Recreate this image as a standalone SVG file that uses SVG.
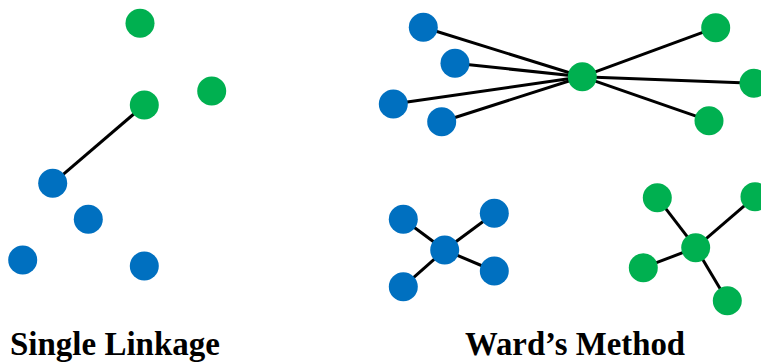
<svg xmlns="http://www.w3.org/2000/svg" width="761" height="362" viewBox="0 0 761 362">
<style>
.b{fill:#0070C0}
.g{fill:#00B050}
.e{stroke:#000;stroke-width:3;fill:none}
.t{font-family:"Liberation Serif","Times New Roman",serif;font-weight:bold;font-size:33px;fill:#000}
</style>
<rect width="761" height="362" fill="#fff"/>
<g id="connectors">
<line class="e" x1="144.3" y1="105" x2="52.7" y2="183.3"/>
<line class="e" x1="582.3" y1="76.7" x2="423.3" y2="27.3"/>
<line class="e" x1="582.3" y1="76.7" x2="455" y2="63.3"/>
<line class="e" x1="582.3" y1="76.7" x2="393.3" y2="104"/>
<line class="e" x1="582.3" y1="76.7" x2="441.7" y2="121.7"/>
<line class="e" x1="582.3" y1="76.7" x2="715.7" y2="27.7"/>
<line class="e" x1="582.3" y1="76.7" x2="754" y2="83.3"/>
<line class="e" x1="582.3" y1="76.7" x2="709" y2="120.7"/>
<line class="e" x1="444.7" y1="250" x2="403.3" y2="219.3"/>
<line class="e" x1="444.7" y1="250" x2="494.3" y2="213.3"/>
<line class="e" x1="444.7" y1="250" x2="494.3" y2="271"/>
<line class="e" x1="444.7" y1="250" x2="403.3" y2="286.7"/>
<line class="e" x1="695.7" y1="247.7" x2="657.3" y2="197.7"/>
<line class="e" x1="695.7" y1="247.7" x2="755" y2="196.7"/>
<line class="e" x1="695.7" y1="247.7" x2="643.3" y2="267.7"/>
<line class="e" x1="695.7" y1="247.7" x2="727.3" y2="300.7"/>
</g>
<g id="single-linkage">
<g id="sl-g1"><circle class="g" cx="140" cy="23.3" r="14.5"/></g>
<g id="sl-g2"><circle class="g" cx="211.7" cy="91" r="14.5"/></g>
<g id="sl-g3"><circle class="g" cx="144.3" cy="105" r="14.5"/></g>
<g id="sl-b1"><circle class="b" cx="52.7" cy="183.3" r="14.5"/></g>
<g id="sl-b2"><circle class="b" cx="88.3" cy="219.3" r="14.5"/></g>
<g id="sl-b3"><circle class="b" cx="22.7" cy="260" r="14.5"/></g>
<g id="sl-b4"><circle class="b" cx="144.3" cy="266" r="14.5"/></g>
</g>
<g id="ward-top">
<g id="wt-b1"><circle class="b" cx="423.3" cy="27.3" r="14.5"/></g>
<g id="wt-b2"><circle class="b" cx="455" cy="63.3" r="14.5"/></g>
<g id="wt-b3"><circle class="b" cx="393.3" cy="104" r="14.5"/></g>
<g id="wt-b4"><circle class="b" cx="441.7" cy="121.7" r="14.5"/></g>
<g id="wt-center"><circle class="g" cx="582.3" cy="76.7" r="14.5"/></g>
<g id="wt-g1"><circle class="g" cx="715.7" cy="27.7" r="14.5"/></g>
<g id="wt-g2"><circle class="g" cx="754" cy="83.3" r="14.5"/></g>
<g id="wt-g3"><circle class="g" cx="709" cy="120.7" r="14.5"/></g>
</g>
<g id="ward-blue">
<g id="wb-1"><circle class="b" cx="403.3" cy="219.3" r="14.5"/></g>
<g id="wb-2"><circle class="b" cx="494.3" cy="213.3" r="14.5"/></g>
<g id="wb-center"><circle class="b" cx="444.7" cy="250" r="14.5"/></g>
<g id="wb-3"><circle class="b" cx="494.3" cy="271" r="14.5"/></g>
<g id="wb-4"><circle class="b" cx="403.3" cy="286.7" r="14.5"/></g>
</g>
<g id="ward-green">
<g id="wg-1"><circle class="g" cx="657.3" cy="197.7" r="14.5"/></g>
<g id="wg-2"><circle class="g" cx="755" cy="196.7" r="14.5"/></g>
<g id="wg-center"><circle class="g" cx="695.7" cy="247.7" r="14.5"/></g>
<g id="wg-3"><circle class="g" cx="643.3" cy="267.7" r="14.5"/></g>
<g id="wg-4"><circle class="g" cx="727.3" cy="300.7" r="14.5"/></g>
</g>
<g id="labels">
<text class="t" x="10" y="355">Single Linkage</text>
<text class="t" x="465" y="355" textLength="220" lengthAdjust="spacingAndGlyphs">Ward’s Method</text>
</g>
</svg>
